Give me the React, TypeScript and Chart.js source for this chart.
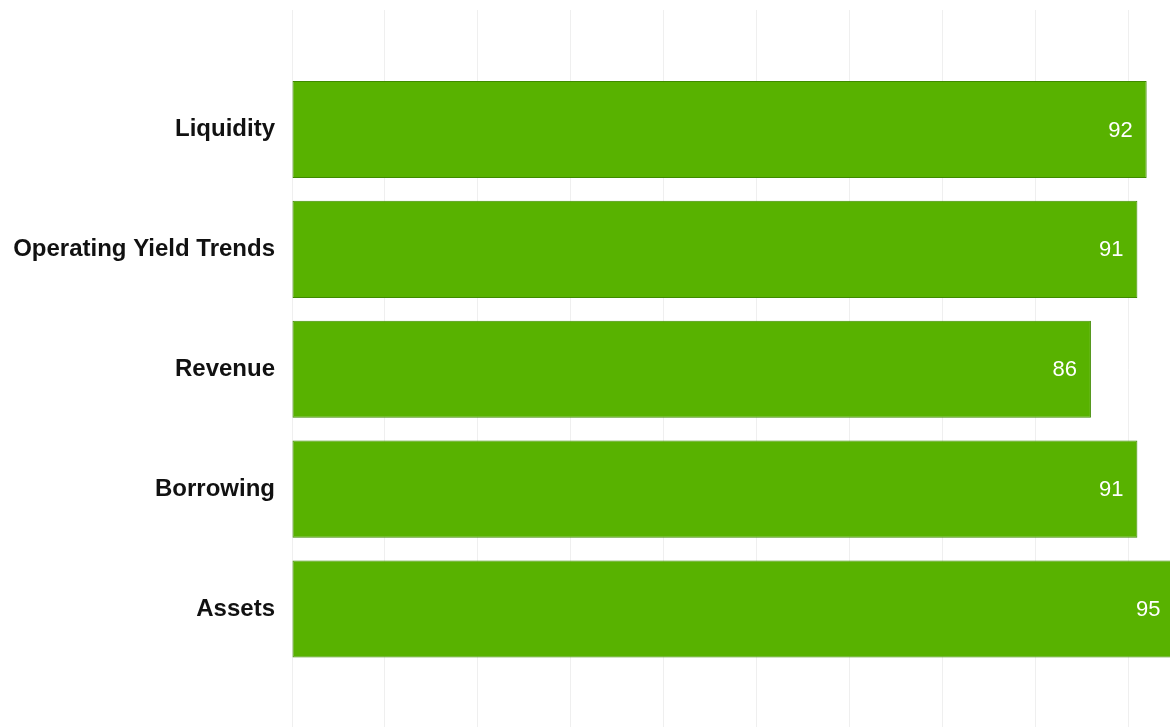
import React, { useEffect, useRef } from "react";
import { Chart, registerables } from "chart.js";

Chart.register(...registerables);

const categories = ["Liquidity", "Operating Yield Trends", "Revenue", "Borrowing", "Assets"];
const scores = [92, 91, 86, 91, 95];
const axisMin = 0;
const axisMax = 100;
const axisStep = 10;

const valueLabelPlugin = {
  id: "valueLabels",
  afterDatasetsDraw(chart: any) {
    const ctx = chart.ctx;
    const meta = chart.getDatasetMeta(0);
    const data = chart.data.datasets[0].data;
    ctx.save();
    ctx.font = "22px 'Liberation Sans', Arial, sans-serif";
    ctx.fillStyle = "#ffffff";
    ctx.textAlign = "right";
    ctx.textBaseline = "middle";
    meta.data.forEach((el: any, i: number) => {
      ctx.fillText(String(data[i]), el.x - 14, el.y + 1);
    });
    ctx.restore();
  },
};

export default function App() {
  const ref = useRef<HTMLCanvasElement | null>(null);

  useEffect(() => {
    if (!ref.current) return;
    const chart = new Chart(ref.current, {
      type: "bar",
      data: {
        labels: categories,
        datasets: [
          {
            data: scores,
            backgroundColor: "#58b200",
            borderColor: "#3f8a00",
            borderWidth: 1,
            borderSkipped: false,
            barPercentage: 0.81,
            categoryPercentage: 1,
            xAxisID: "x",
          },
        ],
      },
      options: {
        indexAxis: "y",
        responsive: false,
        animation: false,
        layout: { padding: { top: 10, left: 0, right: 0, bottom: 0 } },
        plugins: {
          legend: { display: false },
          tooltip: { enabled: false },
        },
        scales: {
          x: {
            type: "linear",
            position: "top",
            min: axisMin,
            max: axisMax,
            ticks: { display: false, stepSize: axisStep },
            border: { display: false },
            grid: { color: "#efefef", lineWidth: 1, drawTicks: true, tickLength: 59.5 },
          },
          x2: {
            type: "linear",
            position: "bottom",
            min: axisMin,
            max: axisMax,
            ticks: { display: false, stepSize: axisStep },
            border: { display: false },
            grid: { color: "#efefef", lineWidth: 1, drawOnChartArea: false, drawTicks: true, tickLength: 58 },
          },
          y: {
            type: "category",
            border: { display: false },
            grid: { display: false, drawTicks: false },
            ticks: {
              color: "#111111",
              padding: 17,
              font: { family: "'Liberation Sans', Arial, sans-serif", size: 24, weight: "bold" },
            },
            afterFit: (scale: any) => {
              scale.width = 292;
            },
          },
        },
      },
      plugins: [valueLabelPlugin],
    });
    return () => chart.destroy();
  }, []);

  return (
    <div style={{ position: "fixed", left: 0, top: 0, width: "100vw", height: "100vh", overflow: "hidden", background: "#fff" }}>
      <canvas ref={ref} width={1221} height={727} style={{ display: "block", width: 1221, height: 727 }} />
    </div>
  );
}
